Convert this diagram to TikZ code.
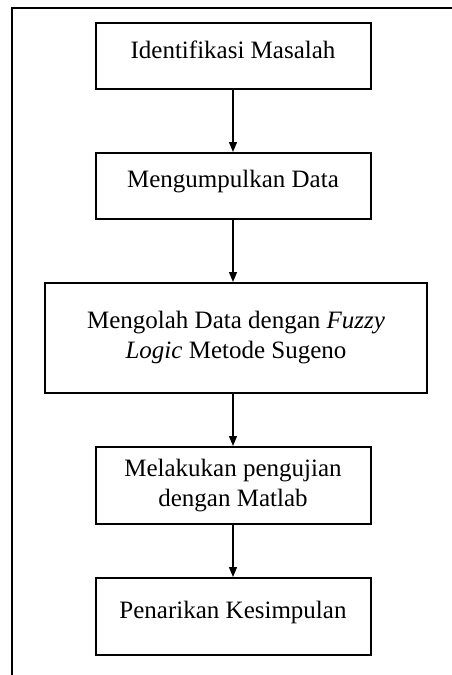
\documentclass[tikz,border=0pt]{standalone}
\usepackage{fontspec}
\setmainfont{Liberation Serif}
\usetikzlibrary{arrows.meta}
\begin{document}
\begin{tikzpicture}[x=1pt,y=-1pt,
  stepbox/.style={draw, line width=2pt, inner sep=0pt, font=\fontsize{25}{30}\selectfont, align=center, text=black},
  flow/.style={line width=1.3pt, -{Triangle[length=10pt,width=8pt]}}]
\useasboundingbox (0,0) rectangle (452,675);
\coordinate (fa) at (12,690);
\coordinate (fb) at (12,8);
\coordinate (fc) at (470,8);
\draw[line width=1.6pt] (fa) -- (fb) -- (fc);
\node[stepbox, minimum width=275, minimum height=66, text height=5pt, text depth=0pt] (b1) at (233,56) {Identifikasi Masalah};
\node[stepbox, minimum width=275, minimum height=66, text height=2pt, text depth=0pt] (b2) at (233,186) {Mengumpulkan Data};
\node[stepbox, minimum width=382, minimum height=110] (b3) at (236,338) {Mengolah Data dengan \textit{Fuzzy}\\ \textit{Logic} Metode Sugeno};
\node[stepbox, minimum width=275, minimum height=77] (b4) at (233,485.5) {Melakukan pengujian\\ dengan Matlab};
\node[stepbox, minimum width=275, minimum height=77, text height=3pt, text depth=0pt] (b5) at (233,616.5) {Penarikan Kesimpulan};
\draw[flow] (b1.south) -- (b2.north);
\draw[flow] (b2.south) -- (b2.south |- b3.north);
\draw[flow] (b4.north |- b3.south) -- (b4.north);
\draw[flow] (b4.south) -- (b5.north);
\end{tikzpicture}
\end{document}
